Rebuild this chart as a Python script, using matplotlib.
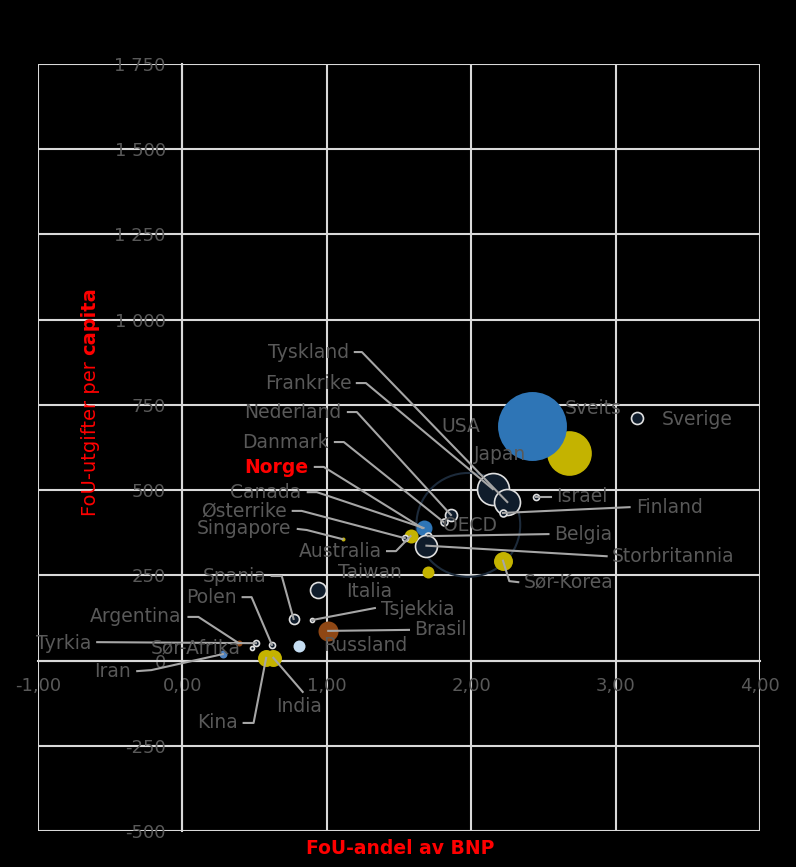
import matplotlib
matplotlib.use("Agg")
import matplotlib.pyplot as plt
from matplotlib.ticker import FuncFormatter, MultipleLocator

# FoU-andel av BNP (x), FoU-utgifter per capita (y), samlet FoU-volum (boblestr.)
land = ["OECD", "Sveits", "Japan", "USA", "Sverige", "Frankrike", "Tyskland",
        "Finland", "Israel", "Nederland", "Danmark", "Norge", "Canada", "Belgia",
        "Storbritannia", "Australia", "Østerrike", "Singapore", "Taiwan",
        "Sør-Korea", "Italia", "Spania", "Tsjekkia", "Brasil", "Russland",
        "Polen", "Sør-Afrika", "Tyrkia", "Argentina", "Iran", "Kina", "India"]
andel_bnp = [1.98, 2.50, 2.68, 2.42, 3.15, 2.15, 2.25,
             2.22, 2.45, 1.86, 1.81, 1.66, 1.67, 1.70,
             1.69, 1.58, 1.54, 1.11, 1.70,
             2.22, 0.94, 0.77, 0.90, 1.01, 0.81,
             0.62, 0.48, 0.51, 0.39, 0.28, 0.58, 0.63]
per_capita = [398, 690, 609, 688, 713, 503, 465,
              433, 480, 427, 406, 389, 389, 365,
              337, 365, 359, 356, 260,
              293, 207, 122, 119, 87, 43,
              46, 37, 51, 51, 19, 8, 8]
fou_volum = [2700, 10, 500, 1190, 36, 256, 169,
             12, 9, 36, 12, 12, 64, 12,
             121, 49, 9, 4, 36,
             90, 64, 25, 4, 100, 36,
             9, 4, 9, 9, 16, 72, 72]
region = ["oecd", "europa", "asia", "amerika", "europa", "europa", "europa",
          "europa", "europa", "europa", "europa", "europa", "amerika", "europa",
          "europa", "asia", "europa", "asia", "asia",
          "asia", "europa", "europa", "europa", "latin", "russland",
          "europa", "europa", "europa", "latin", "iran", "asia", "asia"]

farger = {"europa": "#0f1c2b", "amerika": "#2e75b6", "asia": "#c4b300",
          "latin": "#8f4714", "russland": "#c6def2", "iran": "#4f83c0"}

# etikettplassering: (x, y, ha, knekkpunkter for ledelinje)
etiketter = {
    "Tyskland": (1.153, 905, "right", [(1.194, 905), (1.243, 905)]),
    "Frankrike": (1.174, 814, "right", [(1.208, 814), (1.271, 814)]),
    "Nederland": (1.104, 729, "right", [(1.146, 729), (1.208, 729)]),
    "Danmark": (1.014, 641, "right", [(1.056, 641), (1.118, 641)]),
    "Norge": (0.875, 565, "right", [(0.917, 568), (0.979, 568)]),
    "Canada": (0.826, 494, "right", [(0.868, 494), (0.931, 494)]),
    "Østerrike": (0.722, 439, "right", [(0.764, 439), (0.826, 439)]),
    "Singapore": (0.757, 386, "right", [(0.799, 386), (0.861, 383)]),
    "Australia": (1.382, 321, "right", [(1.417, 321), (1.479, 321)]),
    "Taiwan": (1.076, 257, "left", None),
    "Spania": (0.583, 248, "right", [(0.618, 248), (0.688, 248)]),
    "Italia": (1.132, 204, "left", None),
    "Tsjekkia": (1.375, 151, "left", [(1.333, 154)]),
    "Argentina": (-0.007, 128, "right", [(0.042, 128), (0.111, 128)]),
    "Polen": (0.375, 186, "right", [(0.417, 186), (0.479, 186)]),
    "Brasil": (1.604, 90, "left", [(1.569, 90)]),
    "Russland": (0.972, 43, "left", None),
    "Sør-Afrika": (-0.222, 37, "left", None),
    "Tyrkia": (-0.632, 51, "right", [(-0.59, 54)]),
    "Iran": (-0.354, -31, "right", [(-0.313, -31), (-0.215, -28)]),
    "Kina": (0.382, -183, "right", [(0.424, -183), (0.493, -183)]),
    "India": (0.646, -136, "left", [(0.833, -92)]),
    "Sør-Korea": (2.361, 230, "left", [(2.326, 230), (2.264, 233)]),
    "Storbritannia": (2.972, 304, "left", [(2.938, 306)]),
    "Belgia": (2.576, 371, "left", [(2.535, 371)]),
    "Finland": (3.139, 450, "left", [(3.097, 450)]),
    "Israel": (2.590, 480, "left", [(2.556, 480)]),
    "Sverige": (3.319, 708, "left", None),
    "Sveits": (2.646, 740, "left", None),
    "USA": (1.792, 688, "left", None),
    "Japan": (2.021, 603, "left", None),
    "OECD": (1.806, 397, "left", None),
}

grid_col = "#d9d9d9"
tekst_col = "#595959"
linje_col = "#a6a6a6"

fig = plt.figure(figsize=(7.96, 8.67), dpi=100, facecolor="black")
ax = fig.add_axes([38 / 796, 1 - 831 / 867, 722 / 796, 767 / 867])
ax.set_facecolor("black")

ax.set_xlim(-1, 4)
ax.set_ylim(-500, 1750)
ax.xaxis.set_major_locator(MultipleLocator(1))
ax.yaxis.set_major_locator(MultipleLocator(250))
ax.xaxis.set_major_formatter(FuncFormatter(lambda v, p: f"{v:.2f}".replace(".", ",")))
ax.yaxis.set_major_formatter(FuncFormatter(lambda v, p: f"{int(round(v)):,}".replace(",", " ")))
ax.grid(True, color=grid_col, lw=1.5)
ax.set_axisbelow(True)
for s in ["top", "right"]:
    ax.spines[s].set_visible(False)
ax.spines["left"].set_position(("data", 0))
ax.spines["bottom"].set_position(("data", 0))
for s in ["left", "bottom"]:
    ax.spines[s].set_color(grid_col)
    ax.spines[s].set_linewidth(1.5)
ax.tick_params(axis="y", length=0, pad=12, labelsize=13, labelcolor=tekst_col)
ax.tick_params(axis="x", length=0, pad=12, labelsize=13, labelcolor=tekst_col)

# bobler
for i, navn in enumerate(land):
    s = fou_volum[i] * 2.07
    if region[i] == "oecd":
        ax.scatter(andel_bnp[i], per_capita[i], s=s, facecolor="none",
                   edgecolor="#1d2b3b", lw=1.5, zorder=2)
    elif region[i] == "europa":
        ax.scatter(andel_bnp[i], per_capita[i], s=s, color=farger["europa"],
                   edgecolor="#e0e0e0", lw=1.2, zorder=3)
    else:
        ax.scatter(andel_bnp[i], per_capita[i], s=s, color=farger[region[i]],
                   lw=0, zorder=3)

# etiketter og ledelinjer
for i, navn in enumerate(land):
    tx, ty, ha, knekk = etiketter[navn]
    if navn == "Norge":
        ax.text(tx, ty, navn, ha=ha, va="center", fontsize=13.5,
                color="red", fontweight="bold", zorder=5)
    else:
        ax.text(tx, ty, navn, ha=ha, va="center", fontsize=13.5,
                color=tekst_col, zorder=5)
    if knekk:
        xs = [p[0] for p in knekk] + [andel_bnp[i]]
        ys = [p[1] for p in knekk] + [per_capita[i]]
        ax.plot(xs, ys, color=linje_col, lw=1.5, zorder=4)

fig.text(400 / 796, 1 - 848 / 867, "FoU-andel av BNP", color="red",
         fontsize=13.5, fontweight="bold", ha="center", va="center")

# y-tittel: vanlig + fet del
renderer = fig.canvas.get_renderer()
del1 = fig.text(90 / 796, 1 - 516 / 867, "FoU-utgifter per", color="red",
                fontsize=14, rotation=90, ha="center", va="bottom")
bb = del1.get_window_extent(renderer)
fig.text(90 / 796, (bb.y1 + 6) / fig.bbox.height, "capita", color="red",
         fontsize=14, fontweight="bold", rotation=90, ha="center", va="bottom")

plt.savefig("out.png", dpi=100, facecolor="black")
